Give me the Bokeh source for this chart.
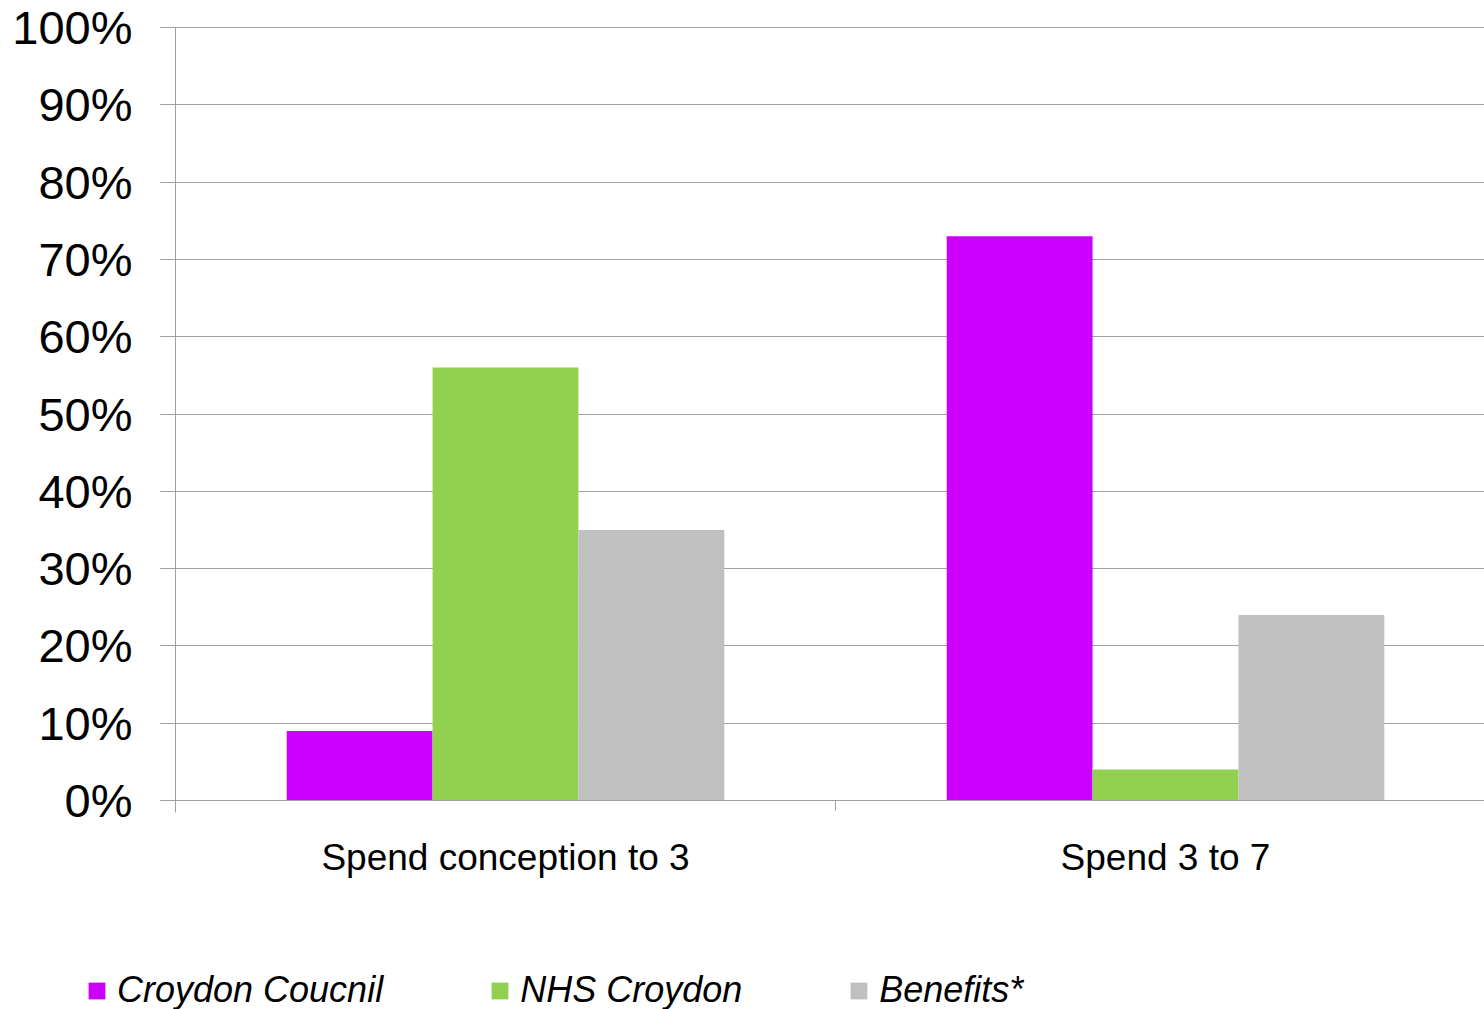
import numpy as np
from bokeh.plotting import figure
from bokeh.models import (ColumnDataSource, FixedTicker, PrintfTickFormatter,
                          Legend, LegendItem, Range1d)
from bokeh.embed import file_html
from bokeh.resources import INLINE

categories = ["Spend conception to 3", "Spend 3 to 7"]
series_names = ["Croydon Coucnil", "NHS Croydon", "Benefits*"]
croydon_council = [9, 73]
nhs_croydon = [56, 4]
benefits = [35, 24]
y_ticks = [0, 10, 20, 30, 40, 50, 60, 70, 80, 90, 100]

colors = ["#CC00FF", "#92D050", "#C0C0C0"]
grid_col = "#a0a0a0"

W, H = 1484, 1009
# layout in pixels: y axis at x=175, category width 660 px, 0% at y=800, 100% at y=27
cat_px = 660.0
x0_px = 175.0
y0_px, y100_px = 800.0, 27.0
ppu = (y0_px - y100_px) / 100.0
x_start = -x0_px / cat_px
x_end = (W - x0_px) / cat_px
y_top = 100 + y100_px / ppu
y_bot = -(H - y0_px) / ppu

p = figure(width=W, height=H, output_backend="svg", toolbar_location=None,
           x_range=Range1d(x_start, x_end), y_range=Range1d(y_bot, y_top),
           min_border=0)
p.outline_line_color = None
p.background_fill_color = "white"
p.border_fill_color = "white"

bar_w = 0.221
offsets = [-bar_w, 0.0, bar_w]
centers = np.arange(len(categories)) + 0.5
renderers = []
for vals, off, col in zip([croydon_council, nhs_croydon, benefits], offsets, colors):
    src = ColumnDataSource(dict(x=centers + off, top=vals))
    r = p.vbar(x="x", top="top", bottom=0, width=bar_w, source=src,
               fill_color=col, line_color=None)
    renderers.append(r)

# y axis
p.yaxis.fixed_location = 0
p.yaxis.bounds = (-1.5, 100)
p.yaxis.ticker = FixedTicker(ticks=y_ticks)
p.yaxis.formatter = PrintfTickFormatter(format="%d%%")
p.yaxis.major_label_text_font = "Liberation Sans"
p.yaxis.major_label_text_font_size = "47px"
p.yaxis.major_label_text_color = "black"
p.yaxis.axis_line_color = grid_col
p.yaxis.major_tick_line_color = grid_col
p.yaxis.major_tick_out = 15
p.yaxis.major_tick_in = 0
p.yaxis.minor_tick_line_color = None
p.yaxis.major_label_standoff = 28

# x axis
p.xaxis.fixed_location = 0
p.xaxis.bounds = (0, x_end)
p.xaxis.ticker = FixedTicker(ticks=list(centers), minor_ticks=[0, 1, 2])
p.xaxis.major_label_overrides = {float(c): lab for c, lab in zip(centers, categories)}
p.xaxis.major_label_text_font = "Liberation Sans"
p.xaxis.major_label_text_font_size = "37px"
p.xaxis.major_label_text_color = "black"
p.xaxis.axis_line_color = grid_col
p.xaxis.major_tick_line_color = None
p.xaxis.major_tick_out = 0
p.xaxis.major_tick_in = 0
p.xaxis.minor_tick_line_color = grid_col
p.xaxis.minor_tick_out = 10
p.xaxis.minor_tick_in = 0
p.xaxis.major_label_standoff = 26

p.xgrid.grid_line_color = None
p.ygrid.grid_line_color = grid_col
p.ygrid.ticker = FixedTicker(ticks=y_ticks)
p.ygrid.bounds = (0, 100)
p.ygrid.cross_bounds = (-15 / cat_px, x_end)

legend = Legend(items=[LegendItem(label=n, renderers=[r]) for n, r in zip(series_names, renderers)],
                orientation="horizontal", location=(86, -2),
                label_text_font="Liberation Sans", label_text_font_style="italic",
                label_text_font_size="36px", label_text_color="black",
                glyph_width=21, glyph_height=21, label_standoff=10, spacing=106,
                padding=0, margin=0, border_line_color=None,
                background_fill_alpha=0)
p.add_layout(legend, "center")

open("out.html", "w").write(file_html(p, INLINE))
